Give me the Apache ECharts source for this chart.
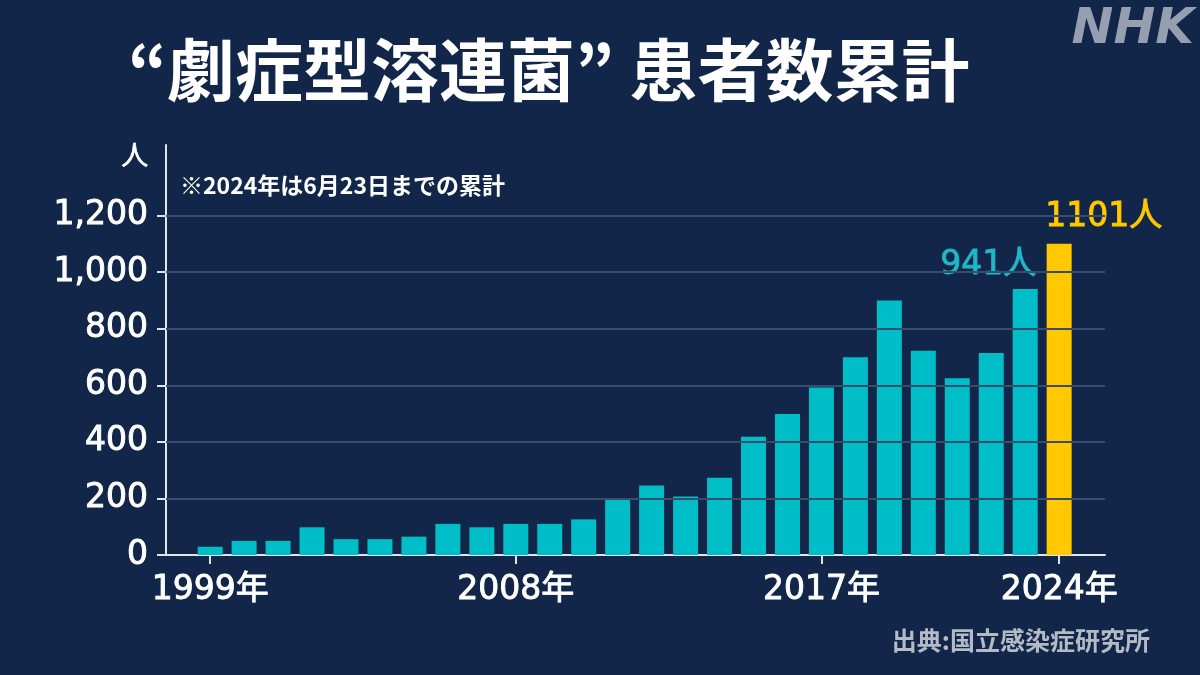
<!DOCTYPE html>
<html lang="ja">
  <head>
    <meta charset="utf-8" />
    <style>
      html,
      body {
        margin: 0;
        width: 100%;
        height: 100%;
        background-color: #112648;
      }
      #container {
        width: 1200px;
        height: 675px;
      }
    </style>
    <script src="https://cdn.jsdelivr.net/npm/echarts@6/dist/echarts.min.js"></script>
  </head>

  <body>
    <div id="container"></div>

    <script>
      // 劇症型溶連菌（STSS）患者数 1999年〜2024年（2024年は6月23日まで）
      var years = [
        1999, 2000, 2001, 2002, 2003, 2004, 2005, 2006, 2007, 2008, 2009, 2010, 2011,
        2012, 2013, 2014, 2015, 2016, 2017, 2018, 2019, 2020, 2021, 2022, 2023, 2024
      ];
      var patients = [
        29, 50, 50, 98, 56, 56, 65, 110, 98, 110, 110, 126, 200,
        246, 207, 273, 418, 499, 592, 699, 900, 722, 625, 714, 941, 1101
      ];
      var yearTicks = [1999, 2008, 2017, 2024];
      var valueTicks = [0, 200, 400, 600, 800, 1000, 1200];
      var labelledYears = [2023, 2024];
      var partialYear = 2024;

      var CYAN = "#00bec8";
      var YELLOW = "#ffc800";
      var NUM_FONT = '"DejaVu Sans", "Noto Sans CJK JP", sans-serif';
      var JP_FONT = '"Noto Sans CJK JP", sans-serif';

      var chart = echarts.init(document.getElementById("container"));

      // 数字は中太に見えるよう、同色の細い縁取りを足す
      function numText(color, size) {
        return {
          color: color,
          fontSize: size,
          fontFamily: NUM_FONT,
          textBorderColor: color,
          textBorderWidth: 0.9
        };
      }

      var barData = years.map(function (y, i) {
        var item = { value: [y, patients[i]] };
        if (y === partialYear) {
          item.itemStyle = { color: YELLOW };
        }
        if (labelledYears.indexOf(y) >= 0) {
          var isPartial = y === partialYear;
          item.label = Object.assign(numText(isPartial ? YELLOW : "#1fb6c6", 33), {
            show: true,
            position: "top",
            distance: isPartial ? 10 : 7,
            align: isPartial ? "left" : "right",
            offset: isPartial ? [-14, 0] : [11, 0],
            formatter: patients[i] + "人"
          });
        }
        return item;
      });

      var option = {
        backgroundColor: "#112648",
        animation: false,
        grid: { left: 166, right: 95, top: 145, bottom: 120 },
        xAxis: {
          type: "value",
          min: 1997.7,
          max: 2025.35,
          splitLine: { show: false },
          axisLine: { show: true, lineStyle: { color: "#dfe3ea", width: 2 } },
          axisTick: {
            show: true,
            customValues: yearTicks,
            length: 9,
            lineStyle: { color: "#dfe3ea", width: 2 }
          },
          axisLabel: Object.assign(numText("#ffffff", 33), {
            customValues: yearTicks,
            margin: 19,
            formatter: function (v) {
              return v + "年";
            }
          })
        },
        yAxis: {
          type: "value",
          min: 0,
          max: 1450,
          splitLine: { show: false },
          axisLine: { show: true, lineStyle: { color: "#dfe3ea", width: 2 } },
          axisTick: {
            show: true,
            customValues: valueTicks,
            length: 9,
            lineStyle: { color: "#dfe3ea", width: 2 }
          },
          axisLabel: Object.assign(numText("#ffffff", 33), {
            customValues: valueTicks,
            margin: 18,
            formatter: function (v) {
              return v.toLocaleString("en-US");
            }
          })
        },
        series: [
          {
            // 目盛り線（1,200まで）
            type: "line",
            data: [],
            z: 1,
            silent: true,
            markLine: {
              silent: true,
              symbol: ["none", "none"],
              label: { show: false },
              lineStyle: { color: "#3a4c6b", width: 2, type: "solid" },
              data: valueTicks
                .filter(function (v) {
                  return v > 0;
                })
                .map(function (v) {
                  return { yAxis: v };
                })
            }
          },
          {
            type: "bar",
            z: 2,
            barWidth: 25,
            itemStyle: { color: CYAN },
            data: barData
          }
        ],
        graphic: [
          {
            type: "text",
            left: 128,
            top: 36,
            style: {
              text: "“劇症型溶連菌” 患者数累計",
              fill: "#ffffff",
              font: "bold 68px " + JP_FONT
            }
          },
          {
            type: "text",
            right: 6,
            top: 5,
            style: {
              text: "NHK",
              fill: "#959fb0",
              font: 'italic bold 50px "DejaVu Sans", sans-serif'
            }
          },
          {
            type: "text",
            left: 121,
            top: 141,
            style: {
              text: "人",
              fill: "#ffffff",
              font: "27px " + JP_FONT,
              stroke: "#ffffff",
              lineWidth: 0.6
            }
          },
          {
            type: "text",
            left: 180,
            top: 174,
            style: {
              text: "※2024年は6月23日までの累計",
              fill: "#ffffff",
              font: "bold 23px " + JP_FONT
            }
          },
          {
            type: "text",
            right: 50,
            top: 628,
            style: {
              text: "出典:国立感染症研究所",
              fill: "#b4bac6",
              font: "bold 25px " + JP_FONT
            }
          }
        ]
      };

      chart.setOption(option);
    </script>
  </body>
</html>
